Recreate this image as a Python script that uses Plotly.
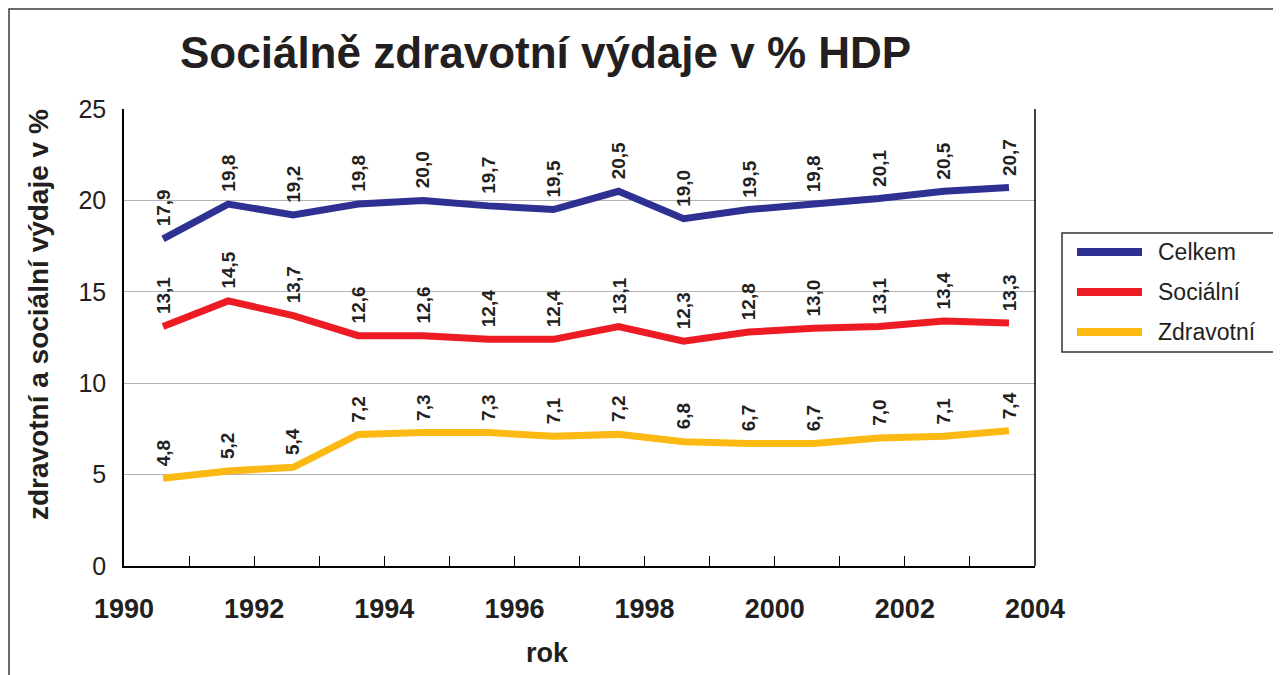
import plotly.graph_objects as go

# ---- data ----
years = list(range(1990, 2004))
series_names = ["Celkem", "Sociální", "Zdravotní"]
celkem = [17.9, 19.8, 19.2, 19.8, 20.0, 19.7, 19.5, 20.5, 19.0, 19.5, 19.8, 20.1, 20.5, 20.7]
socialni = [13.1, 14.5, 13.7, 12.6, 12.6, 12.4, 12.4, 13.1, 12.3, 12.8, 13.0, 13.1, 13.4, 13.3]
zdravotni = [4.8, 5.2, 5.4, 7.2, 7.3, 7.3, 7.1, 7.2, 6.8, 6.7, 6.7, 7.0, 7.1, 7.4]
x_tick_vals = list(range(1990, 2005))
x_tick_labels = ["1990", "", "1992", "", "1994", "", "1996", "", "1998", "", "2000", "", "2002", "", "2004"]
y_tick_vals = [0, 5, 10, 15, 20, 25]

title_text = "Sociálně zdravotní výdaje v % HDP"
x_title = "rok"
y_title = "zdravotní a sociální výdaje v %"

# ---- style ----
colors = ["#2E3192", "#ED1C24", "#FDB913"]
text_color = "#231F20"
font_family = "Liberation Sans, Arial, sans-serif"
point_offset = 0.6  # points drawn mid-interval like the original

OFF = 8  # page body margin
W, H = 1281 - OFF, 675 - OFF
# plot area in reference-page pixels
L, R, T, B = 124, 1035, 109, 566
pw, ph = R - L, B - T


def px(x):
    return (x - L) / pw


def py(y):
    return (B - y) / ph


xs = [y + point_offset for y in years]
all_series = [celkem, socialni, zdravotni]

fig = go.Figure()
annotations = []
for name, vals, col in zip(series_names, all_series, colors):
    fig.add_trace(go.Scatter(
        x=xs, y=vals, name=name, mode="lines",
        line=dict(color=col, width=7), showlegend=False,
        hoverinfo="x+y+name",
    ))
    for xv, v in zip(xs, vals):
        annotations.append(dict(
            x=xv, y=v, xref="x", yref="y",
            text="<b>" + f"{v:.1f}".replace(".", ",") + "</b>",
            textangle=-90, showarrow=False,
            xanchor="center", yanchor="bottom", yshift=10,
            font=dict(family=font_family, size=19, color=text_color),
        ))

# title
annotations.append(dict(
    x=px(545), y=py(52), xref="paper", yref="paper", text=f"<b>{title_text}</b>",
    showarrow=False, xanchor="center", yanchor="middle",
    font=dict(family=font_family, size=44, color=text_color),
))
# y title
annotations.append(dict(
    x=px(38), y=py(315), xref="paper", yref="paper", text=f"<b>{y_title}</b>",
    textangle=-90, showarrow=False, xanchor="center", yanchor="middle",
    font=dict(family=font_family, size=28, color=text_color),
))
# x title
annotations.append(dict(
    x=px(547), y=py(653), xref="paper", yref="paper", text=f"<b>{x_title}</b>",
    showarrow=False, xanchor="center", yanchor="middle",
    font=dict(family=font_family, size=27, color=text_color),
))

shapes = []
# outer frame
shapes.append(dict(type="rect", xref="paper", yref="paper",
                   x0=px(9), x1=px(1310), y0=py(700), y1=py(9),
                   line=dict(color="#3a3a3a", width=1.5), layer="below"))
# right border of plot area
shapes.append(dict(type="line", xref="paper", yref="paper",
                   x0=1, x1=1, y0=0, y1=1, line=dict(color="black", width=1.5)))
# manual legend
lg_x0, lg_x1, lg_y0, lg_y1 = 1062, 1274, 233, 352
shapes.append(dict(type="rect", xref="paper", yref="paper",
                   x0=px(lg_x0), x1=px(lg_x1), y0=py(lg_y1), y1=py(lg_y0),
                   line=dict(color="#333333", width=1.5), fillcolor="white"))
for i, (name, col) in enumerate(zip(series_names, colors)):
    yy = 252 + 40 * i
    shapes.append(dict(type="line", xref="paper", yref="paper",
                       x0=px(1077), x1=px(1142), y0=py(yy), y1=py(yy),
                       line=dict(color=col, width=8)))
    annotations.append(dict(
        x=px(1156), y=py(yy), xref="paper", yref="paper", text=name,
        showarrow=False, xanchor="left", yanchor="middle",
        font=dict(family=font_family, size=23, color=text_color),
    ))

fig.update_layout(
    width=W, height=H,
    margin=dict(l=L - OFF, r=W - (R - OFF), t=T - OFF, b=H - (B - OFF), pad=0),
    paper_bgcolor="white", plot_bgcolor="white",
    font=dict(family=font_family, color=text_color),
    annotations=annotations, shapes=shapes,
    xaxis=dict(
        range=[1990, 2004], tickmode="array", tickvals=x_tick_vals, ticktext=x_tick_labels,
        ticks="inside", ticklen=10, tickcolor="black", tickwidth=1,
        showline=True, linecolor="black", linewidth=1.5, showgrid=False, zeroline=False,
        tickfont=dict(family=font_family, size=27, color=text_color, weight="bold"),
        ticklabelstandoff=18,
    ),
    yaxis=dict(
        range=[0, 25], tickmode="array", tickvals=y_tick_vals,
        ticks="", showline=True, linecolor="black", linewidth=1.5, mirror=False,
        showgrid=True, gridcolor="#B4B4B4", gridwidth=1, zeroline=False,
        tickfont=dict(family=font_family, size=25, color=text_color),
        ticklabelstandoff=11,
    ),
)

fig.write_html("out.html")
